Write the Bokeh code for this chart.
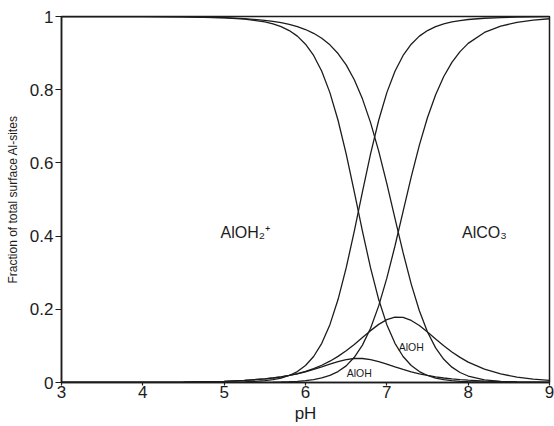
from bokeh.plotting import figure
from bokeh.models import ColumnDataSource, Range1d, FixedTicker
from bokeh.core.properties import value
from bokeh.embed import file_html
from bokeh.resources import INLINE

# pH grid
ph = [3.0, 3.5, 4.0, 4.5, 5.0, 5.25, 5.5, 5.6, 5.7, 5.8, 5.9, 6.0, 6.1, 6.2, 6.3,
      6.4, 6.5, 6.6, 6.7, 6.8, 6.9, 7.0, 7.1, 7.2, 7.3, 7.4, 7.5, 7.6, 7.7, 7.8,
      7.9, 8.0, 8.2, 8.4, 8.6, 8.8, 9.0]

# case 1 (lower carbonate edge)
aloh2_1 = [1.0000, 0.9999, 0.9997, 0.9990, 0.9964, 0.9928, 0.9852, 0.9799, 0.9723, 0.9616,
           0.9463, 0.9244, 0.8935, 0.8503, 0.7920, 0.7165, 0.6245, 0.5208, 0.4137, 0.3130,
           0.2266, 0.1580, 0.1071, 0.0710, 0.0463, 0.0299, 0.0192, 0.0122, 0.0078, 0.0049,
           0.0031, 0.0020, 0.0008, 0.0003, 0.0001, 0.0001, 0.0000]
aloh_1 = [0.0000, 0.0001, 0.0003, 0.0010, 0.0032, 0.0056, 0.0099, 0.0123, 0.0154, 0.0192,
          0.0238, 0.0292, 0.0356, 0.0426, 0.0500, 0.0569, 0.0625, 0.0656, 0.0656, 0.0625,
          0.0569, 0.0500, 0.0426, 0.0356, 0.0292, 0.0238, 0.0192, 0.0154, 0.0123, 0.0099,
          0.0079, 0.0063, 0.0040, 0.0025, 0.0016, 0.0010, 0.0006]
alco3_1 = [0.0000, 0.0000, 0.0000, 0.0000, 0.0005, 0.0016, 0.0049, 0.0078, 0.0122, 0.0192,
           0.0299, 0.0463, 0.0710, 0.1071, 0.1580, 0.2266, 0.3130, 0.4137, 0.5208, 0.6245,
           0.7165, 0.7920, 0.8503, 0.8935, 0.9244, 0.9463, 0.9616, 0.9723, 0.9799, 0.9852,
           0.9890, 0.9918, 0.9952, 0.9972, 0.9983, 0.9990, 0.9994]

# case 2 (higher carbonate edge)
aloh2_2 = [1.0000, 0.9999, 0.9997, 0.9990, 0.9968, 0.9942, 0.9896, 0.9868, 0.9831, 0.9784,
           0.9724, 0.9644, 0.9541, 0.9405, 0.9225, 0.8988, 0.8677, 0.8271, 0.7750, 0.7100,
           0.6320, 0.5432, 0.4485, 0.3547, 0.2688, 0.1959, 0.1380, 0.0946, 0.0634, 0.0419,
           0.0273, 0.0177, 0.0073, 0.0029, 0.0012, 0.0005, 0.0002]
aloh_2 = [0.0000, 0.0001, 0.0003, 0.0010, 0.0032, 0.0056, 0.0099, 0.0124, 0.0156, 0.0195,
          0.0244, 0.0305, 0.0380, 0.0471, 0.0582, 0.0714, 0.0868, 0.1041, 0.1228, 0.1417,
          0.1588, 0.1718, 0.1785, 0.1778, 0.1696, 0.1556, 0.1380, 0.1190, 0.1005, 0.0835,
          0.0686, 0.0558, 0.0364, 0.0234, 0.0149, 0.0095, 0.0060]
alco3_2 = [0.0000, 0.0000, 0.0000, 0.0000, 0.0001, 0.0002, 0.0005, 0.0008, 0.0013, 0.0020,
           0.0032, 0.0051, 0.0079, 0.0124, 0.0193, 0.0298, 0.0455, 0.0688, 0.1022, 0.1483,
           0.2093, 0.2851, 0.3730, 0.4676, 0.5616, 0.6486, 0.7241, 0.7864, 0.8361, 0.8746,
           0.9041, 0.9265, 0.9564, 0.9737, 0.9839, 0.9901, 0.9938]

x_ticks = [3, 4, 5, 6, 7, 8, 9]
y_ticks = [0, 0.2, 0.4, 0.6, 0.8, 1]
y_tick_labels = ["0", "0.2", "0.4", "0.6", "0.8", "1"]

big_labels = ["AlOH\u2082\u207a", "AlCO\u2083"]
big_label_x = [5.26, 8.2]
big_label_y = [0.41, 0.41]
small_labels = ["AlOH", "AlOH"]
small_label_x = [7.30, 6.66]
small_label_y = [0.098, 0.025]

FONT = "Liberation Sans"
INK = "#1c1c1c"

src = ColumnDataSource(dict(ph=ph, a1=aloh2_1, o1=aloh_1, c1=alco3_1,
                            a2=aloh2_2, o2=aloh_2, c2=alco3_2))

p = figure(width=554, height=426, output_backend="svg", toolbar_location=None,
           x_range=Range1d(3, 9), y_range=Range1d(0, 1),
           min_border_left=61, min_border_right=5, min_border_top=16, min_border_bottom=44)
p.background_fill_color = "white"
p.border_fill_color = "white"
p.outline_line_color = INK
p.outline_line_width = 1.5
p.xgrid.visible = False
p.ygrid.visible = False

for col in ["a1", "o1", "c1", "a2", "o2", "c2"]:
    p.line("ph", col, source=src, line_color=INK, line_width=1.3)

p.text(x=big_label_x, y=big_label_y, text=big_labels, text_font=value(FONT),
       text_font_size="16px", text_align="center", text_baseline="middle", text_color=INK)
p.text(x=small_label_x, y=small_label_y, text=small_labels, text_font=value(FONT),
       text_font_size="10.5px", text_align="center", text_baseline="middle", text_color=INK)

for ax in (p.xaxis[0], p.yaxis[0]):
    ax.axis_line_color = INK
    ax.axis_line_width = 1.5
    ax.major_tick_line_color = INK
    ax.major_tick_line_width = 1.2
    ax.major_tick_in = 0
    ax.minor_tick_line_color = None
    ax.major_label_text_font = FONT
    ax.major_label_text_font_size = "17px"
    ax.major_label_text_color = INK
    ax.axis_label_text_font = FONT
    ax.axis_label_text_font_style = "normal"
    ax.axis_label_text_color = INK

p.xaxis.ticker = FixedTicker(ticks=x_ticks)
p.yaxis.ticker = FixedTicker(ticks=y_ticks)
p.yaxis.major_label_overrides = {t: s for t, s in zip(y_ticks, y_tick_labels)}
p.xaxis.major_tick_out = 3
p.xaxis.major_label_standoff = 0
p.yaxis.major_tick_out = 6
p.yaxis.major_label_standoff = 2
p.xaxis.axis_label = "pH"
p.xaxis.axis_label_text_font_size = "17px"
p.xaxis.axis_label_standoff = 3
p.yaxis.axis_label = "Fraction of total surface Al-sites"
p.yaxis.axis_label_text_font_size = "12px"
p.yaxis.axis_label_standoff = 7

open("out.html", "w").write(file_html(p, INLINE))
